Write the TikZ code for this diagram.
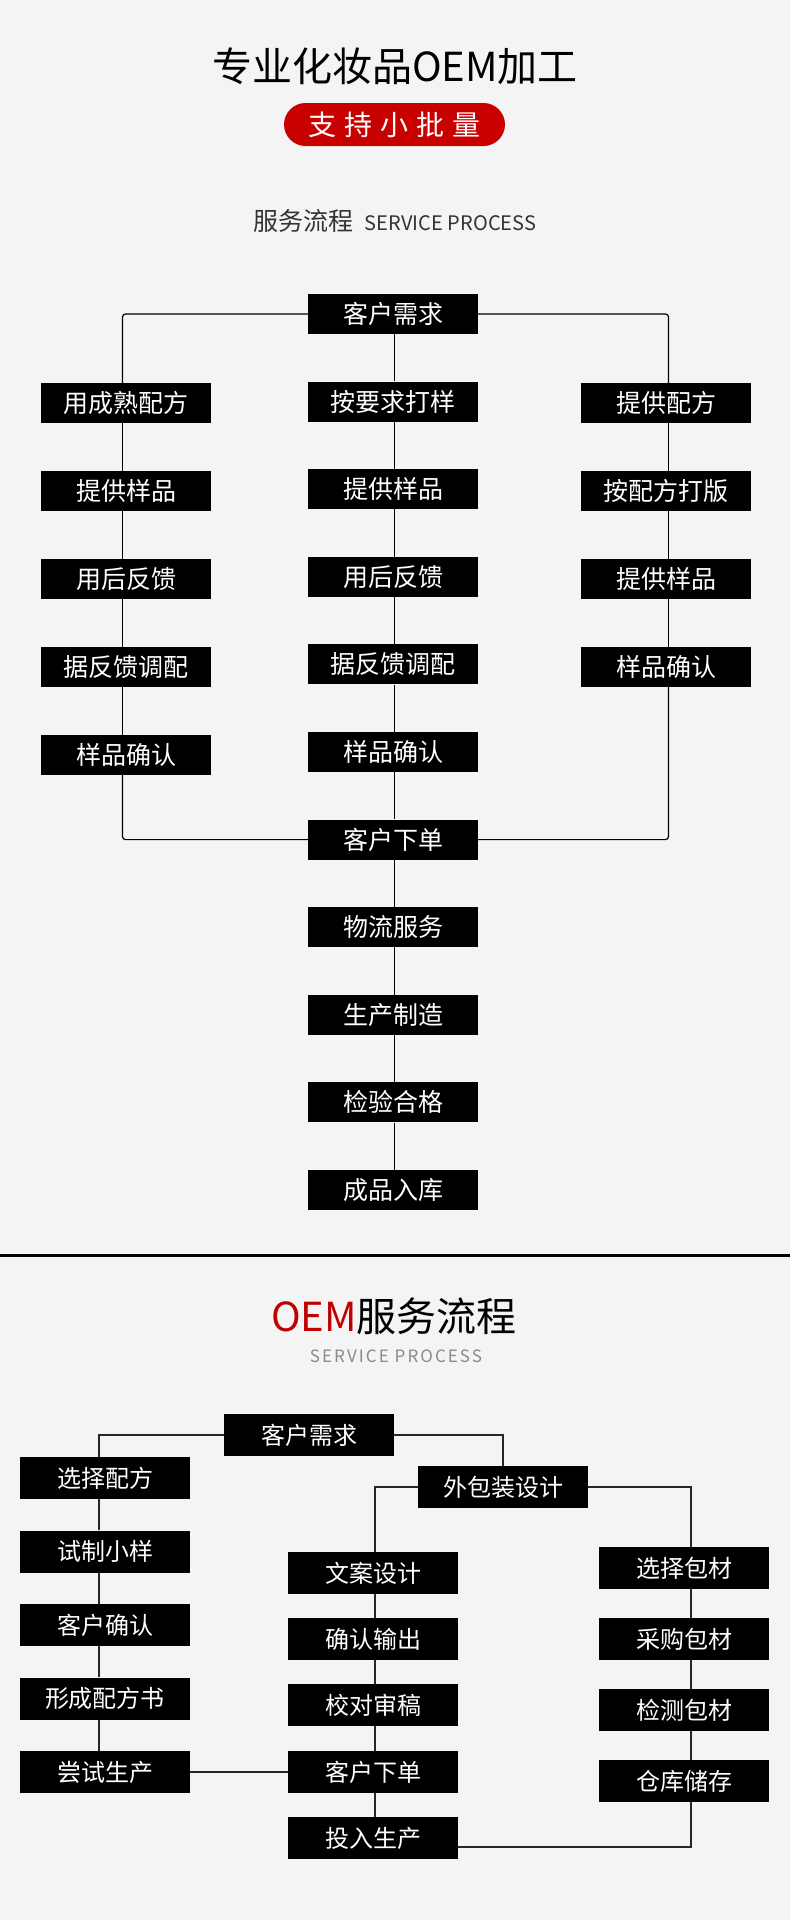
\documentclass[tikz,border=0pt]{standalone}
\usepackage{fontspec}
\setmainfont{Noto Sans CJK SC}
\newfontfamily\cjkls[LetterSpace=12]{Noto Sans CJK SC}
\definecolor{bgc}{HTML}{F4F4F4}
\definecolor{pillred}{HTML}{C80000}
\definecolor{oemred}{HTML}{C00000}
\definecolor{subgray}{HTML}{333333}
\definecolor{lightgray}{HTML}{8A8A8A}
\begin{document}
\begin{tikzpicture}[x=1pt,y=-1pt,
  tbox/.style={fill=black, text=white, minimum width=170pt, minimum height=40pt, inner sep=0pt, font=\fontsize{25}{25}\selectfont},
  bbox/.style={fill=black, text=white, minimum width=170pt, minimum height=42pt, inner sep=0pt, font=\fontsize{24}{24}\selectfont},
  lk/.style={draw=black, line width=1.2pt},
  lk2/.style={draw=black!85, line width=1.2pt}]
\path[fill=bgc] (0,0) rectangle (790,1920);
\useasboundingbox (0,0) rectangle (790,1920);

% headings
\node[font=\fontsize{40}{40}\selectfont, text=black] (title) at (395,66) {专业化妆品OEM加工};
\node[fill=pillred, rounded corners=21.5pt, minimum width=221pt, minimum height=43pt, inner sep=0pt, text=white, font=\fontsize{28}{28}\selectfont] (pill) at (394.5,124.5) {支\hspace{8pt}持\hspace{8pt}小\hspace{8pt}批\hspace{8pt}量};
\node[text=subgray] (sub) at (395,221) {{\fontsize{25}{25}\selectfont 服务流程}\hspace{11pt}{\fontsize{20}{20}\selectfont SERVICE PROCESS}};

% top flow: middle column
\foreach \i/\t in {0/客户需求,1/按要求打样,2/提供样品,3/用后反馈,4/据反馈调配,5/样品确认,6/客户下单,7/物流服务,8/生产制造,9/检验合格,10/成品入库}
  \node[tbox] (m\i) at (393,314+87.6*\i) {\t};
% left column
\foreach \i/\t in {1/用成熟配方,2/提供样品,3/用后反馈,4/据反馈调配,5/样品确认}
  \node[tbox] (l\i) at (126,403+88*\i-88) {\t};
% right column
\foreach \i/\t in {1/提供配方,2/按配方打版,3/提供样品,4/样品确认}
  \node[tbox] (r\i) at (666,403+88*\i-88) {\t};

\draw[lk, rounded corners=3pt] (m0.west) -| ([xshift=-3.5pt]l1.north);
\draw[lk, rounded corners=3pt] (m0.east) -| ([xshift=2.5pt]r1.north);
\draw[lk, rounded corners=3pt] ([xshift=-3.5pt]l5.south) |- (m6.west);
\draw[lk, rounded corners=3pt] ([xshift=2.5pt]r4.south) |- (m6.east);
\foreach \a/\b in {0/1,1/2,2/3,3/4,4/5,5/6,6/7,7/8,8/9,9/10}
  \draw[lk] ([xshift=1.5pt]m\a.south) -- ([xshift=1.5pt]m\b.north);
\foreach \a/\b in {1/2,2/3,3/4,4/5}
  \draw[lk] ([xshift=-3.5pt]l\a.south) -- ([xshift=-3.5pt]l\b.north);
\foreach \a/\b in {1/2,2/3,3/4}
  \draw[lk] ([xshift=2.5pt]r\a.south) -- ([xshift=2.5pt]r\b.north);

% divider
\draw[line width=3pt] (0,1255) -- (790,1255);

% second heading
\node[font=\fontsize{40}{40}\selectfont, text=black] (title2) at (394,1316) {\textcolor{oemred}{OEM}服务流程};
\node[font=\cjkls\fontsize{17}{17}\selectfont, text=lightgray] (sub2) at (396,1356) {SERVICE PROCESS};

% bottom flow
\node[bbox] (b0) at (309,1435) {客户需求};
\node[bbox] (pk) at (503,1487) {外包装设计};
\foreach \i/\t/\y in {1/选择配方/1478,2/试制小样/1551.5,3/客户确认/1625,4/形成配方书/1698.5,5/尝试生产/1772}
  \node[bbox] (c\i) at (105,\y) {\t};
\foreach \i/\t/\y in {1/文案设计/1573,2/确认输出/1639,3/校对审稿/1705,4/客户下单/1772,5/投入生产/1838}
  \node[bbox] (d\i) at (373,\y) {\t};
\foreach \i/\t/\y in {1/选择包材/1568,2/采购包材/1639,3/检测包材/1710,4/仓库储存/1781}
  \node[bbox] (e\i) at (684,\y) {\t};

\draw[lk2] (b0.west) -| ([xshift=-6pt]c1.north);
\draw[lk2] (b0.east) -| (pk.north);
\draw[lk2] (pk.west) -| ([xshift=2pt]d1.north);
\draw[lk2] (pk.east) -| ([xshift=7pt]e1.north);
\foreach \a/\b in {1/2,2/3,3/4,4/5}
  \draw[lk2] ([xshift=-6pt]c\a.south) -- ([xshift=-6pt]c\b.north);
\foreach \a/\b in {1/2,2/3,3/4,4/5}
  \draw[lk2] ([xshift=2pt]d\a.south) -- ([xshift=2pt]d\b.north);
\foreach \a/\b in {1/2,2/3,3/4}
  \draw[lk2] ([xshift=7pt]e\a.south) -- ([xshift=7pt]e\b.north);
\draw[lk2] (c5.east) -- (d4.west);
\draw[lk2] ([yshift=-9pt]d5.east) -| ([xshift=7pt]e4.south);
\end{tikzpicture}
\end{document}
